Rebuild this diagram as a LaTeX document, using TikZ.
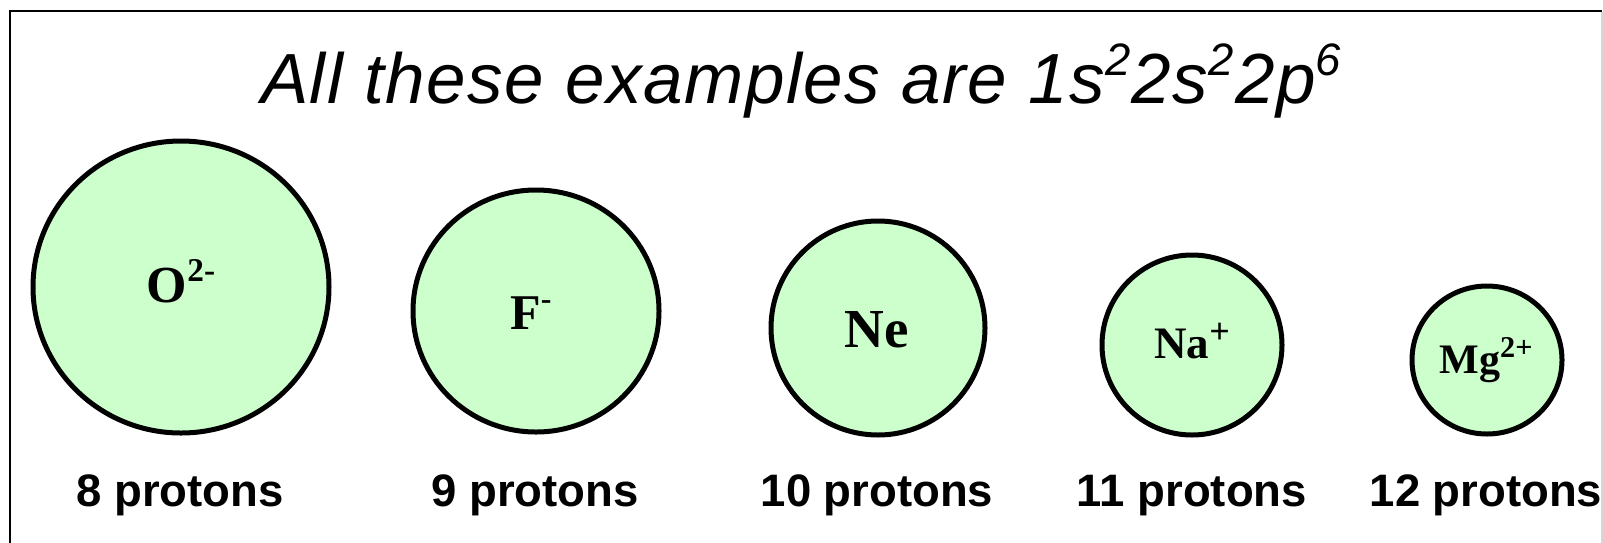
\documentclass[tikz,border=0pt]{standalone}
\usepackage{fontspec}
\setmainfont{Liberation Serif}
\newfontfamily\arialf{Liberation Sans}
\newfontfamily\arialtitle[LetterSpace=2.2]{Liberation Sans}
\definecolor{ionfill}{RGB}{204,255,204}
\definecolor{edgegray}{RGB}{215,215,215}
\newcommand{\upidx}[3][0.40em]{\raisebox{#1}{\scalebox{#2}{#3}}}
\tikzset{
  ion/.style={draw=black, line width=5pt, fill=ionfill},
  ionlabel/.style={font=\bfseries, inner sep=0pt, anchor=base},
  protlabel/.style={font=\arialf\bfseries\fontsize{45.5}{48}\selectfont, inner sep=0pt, anchor=base},
  titlelabel/.style={font=\arialtitle\itshape\fontsize{71}{80}\selectfont, inner sep=0pt, anchor=base}
}
\begin{document}
\begin{tikzpicture}[x=1pt,y=-1pt]
\useasboundingbox (0,0) rectangle (1603,542);
\fill[white] (0,0) rectangle (1603,542);
% frame
\draw[line width=2pt, black] (10,545) -- (10,11) -- (1602,11);
\draw[line width=1.5pt, edgegray] (1602,12) -- (1602,545);
% title
\node[titlelabel] (title) at (801,103) {All these examples are 1s\upidx[0.39em]{0.64}{2}\kern0.02em 2s\upidx[0.39em]{0.64}{2}\kern0.02em 2p\upidx[0.39em]{0.64}{6}};
% ions
\draw[ion] (181,287) ellipse [x radius=148, y radius=146];
\draw[ion] (536,311) ellipse [x radius=123, y radius=121];
\draw[ion] (878,328) circle [radius=107];
\draw[ion] (1192,345) circle [radius=90];
\draw[ion] (1487,360) ellipse [x radius=75, y radius=74];
\node[ionlabel, font=\bfseries\fontsize{52}{56}\selectfont] (o) at (181,302) {O\upidx{0.64}{2-}};
\node[ionlabel, font=\bfseries\fontsize{50}{54}\selectfont] (f) at (531,329) {F\upidx{0.64}{-}};
\node[ionlabel, font=\bfseries\fontsize{55}{58}\selectfont] (ne) at (877,347) {Ne};
\node[ionlabel, font=\bfseries\fontsize{45}{48}\selectfont] (na) at (1192,358) {Na\upidx[0.33em]{0.8}{+}};
\node[ionlabel, font=\bfseries\fontsize{42}{44}\selectfont] (mg) at (1486,373) {Mg\upidx[0.36em]{0.72}{2+}};
% proton counts
\node[protlabel] (p8) at (180,506) {8 protons};
\node[protlabel] (p9) at (535,506) {9 protons};
\node[protlabel] (p10) at (877,506) {10 protons};
\node[protlabel] (p11) at (1192,506) {11 protons};
\node[protlabel] (p12) at (1486,506) {12 protons};
\end{tikzpicture}
\end{document}
